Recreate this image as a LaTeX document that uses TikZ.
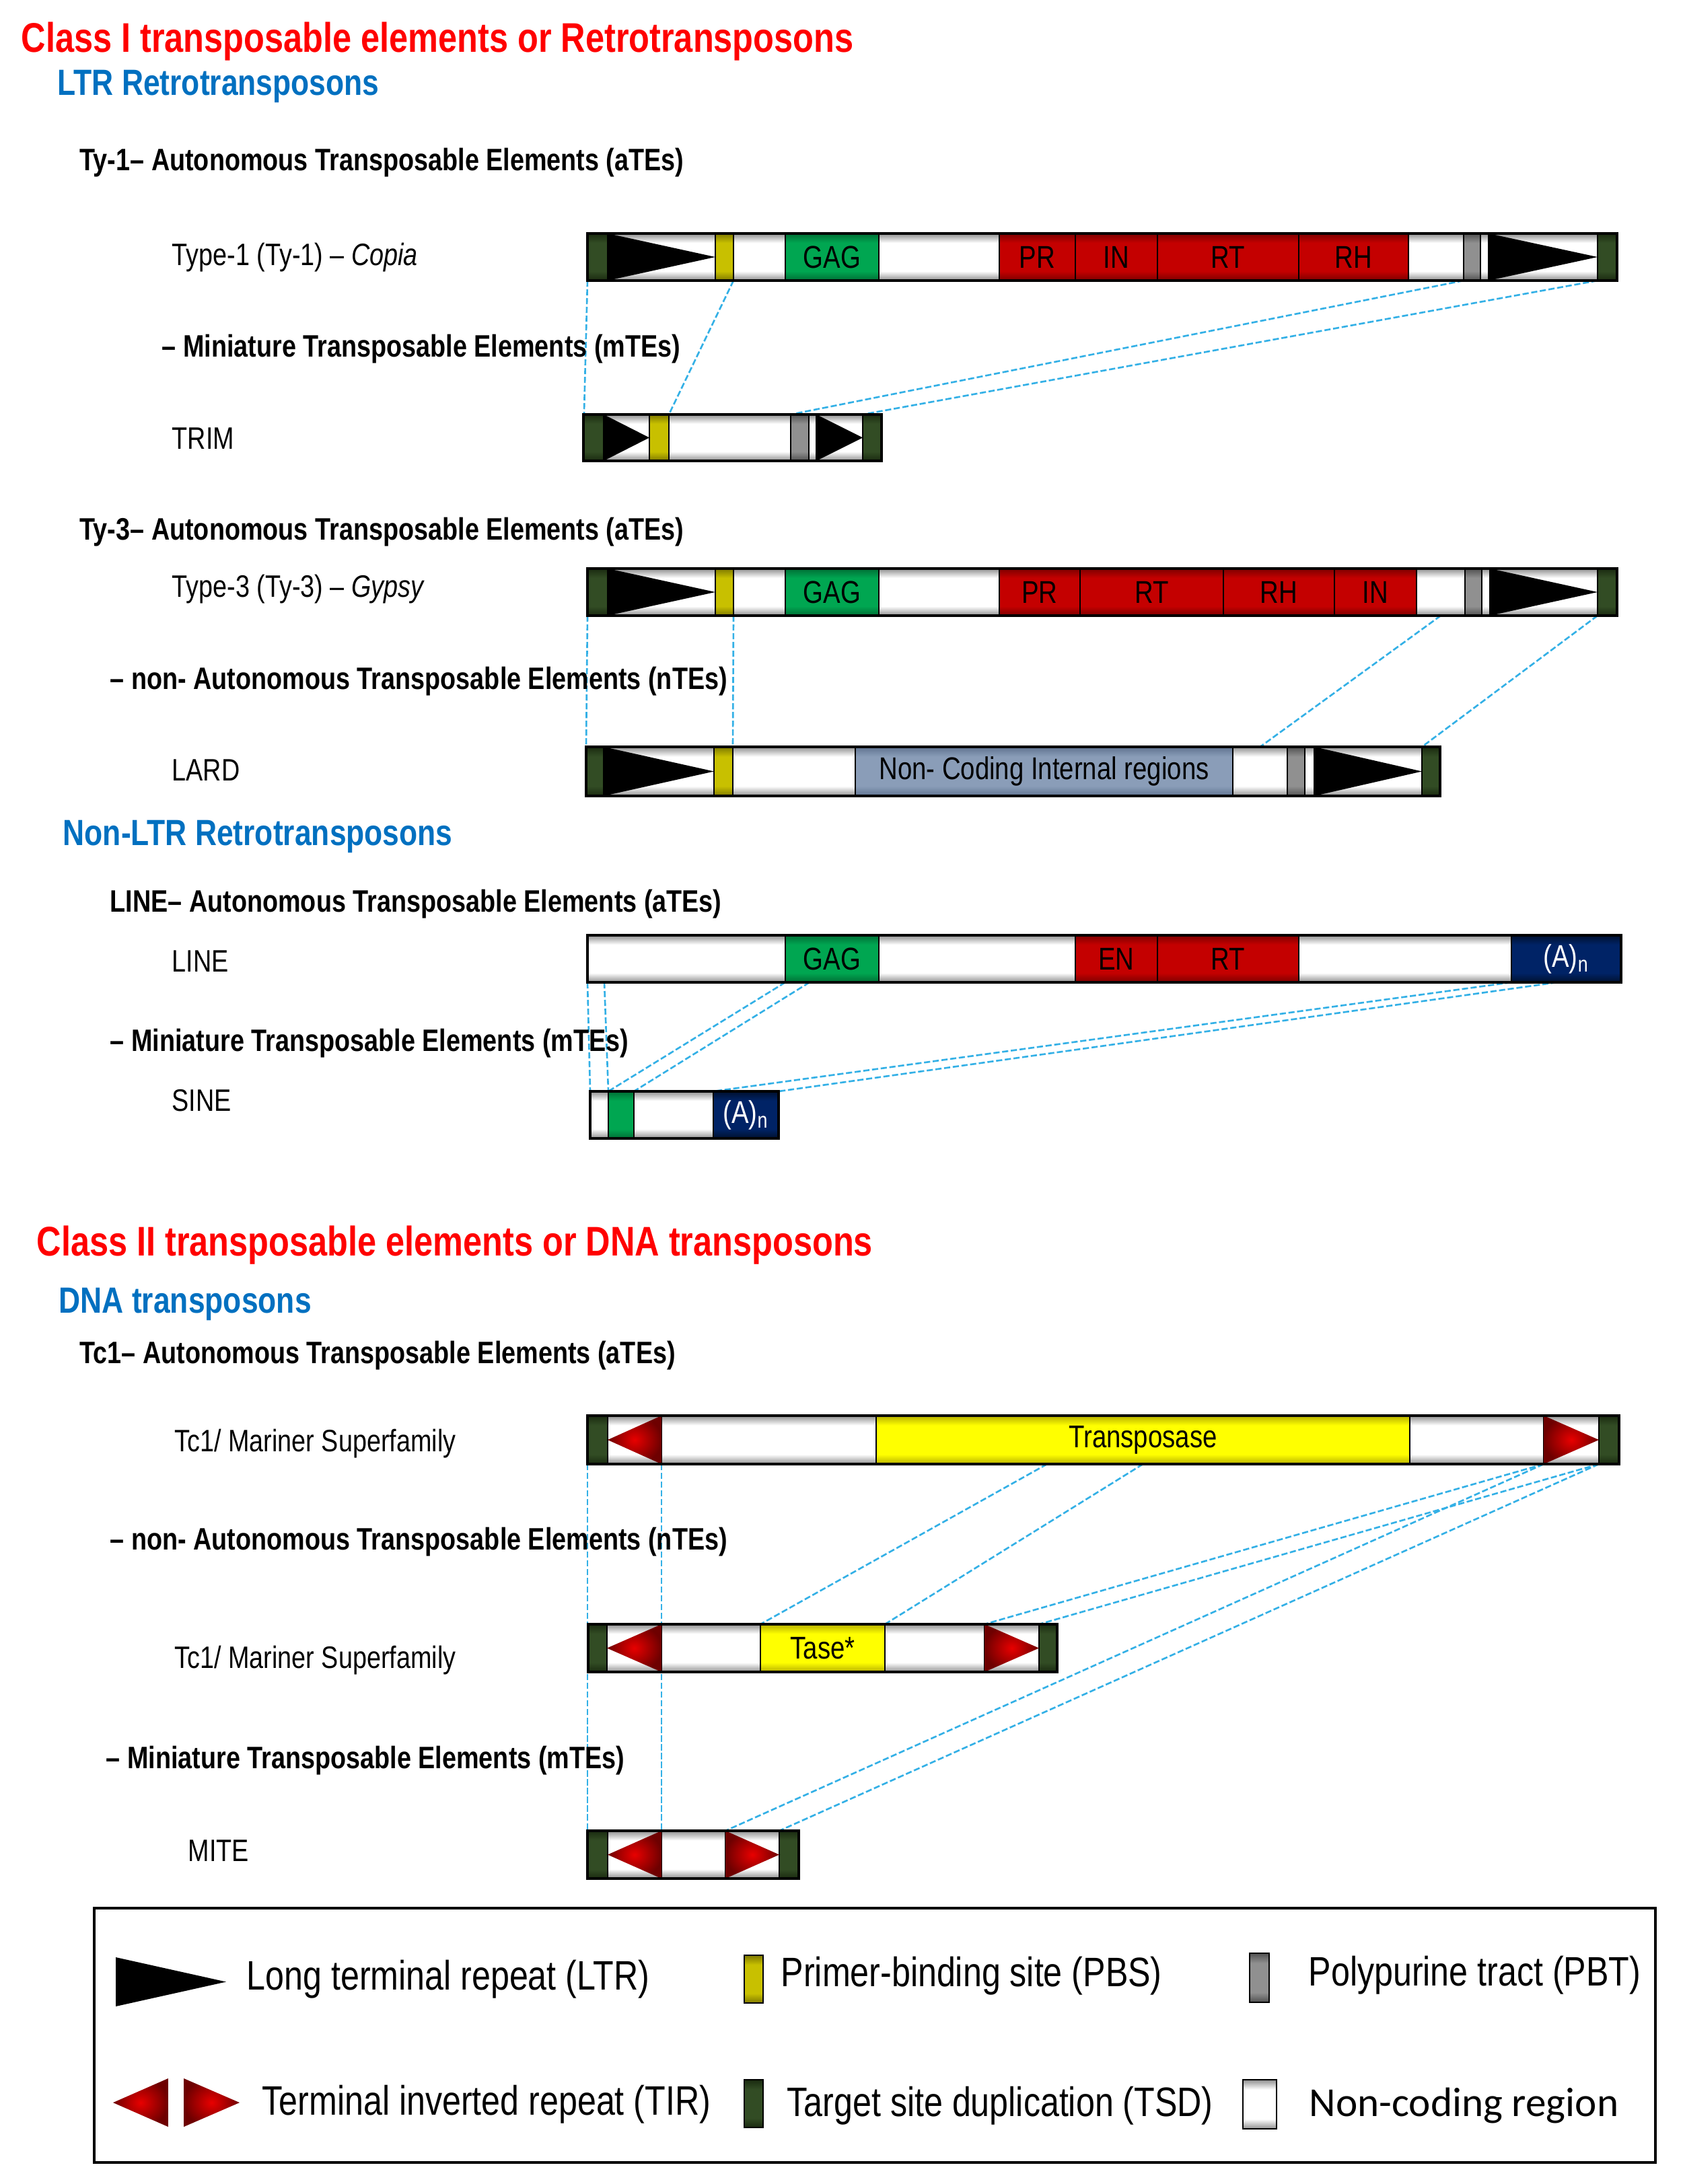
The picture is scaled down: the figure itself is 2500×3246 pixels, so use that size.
\documentclass[tikz,border=0pt]{standalone}
\usepackage{fontspec}
\setmainfont{Liberation Sans}[FakeStretch=0.82]
\newfontfamily\calib{Carlito}
\usetikzlibrary{calc,backgrounds}
\definecolor{titlered}{HTML}{FF0000}
\definecolor{subblue}{HTML}{0070C0}
\definecolor{dashblue}{HTML}{33B0E6}
\definecolor{ncedge}{HTML}{8E8E8E}
\definecolor{tsdmid}{HTML}{324C24}
\definecolor{tsdedge}{HTML}{1A2A10}
\definecolor{pbsmid}{HTML}{C8C000}
\definecolor{pbsedge}{HTML}{7E7800}
\definecolor{gagmid}{HTML}{00A651}
\definecolor{gagedge}{HTML}{006E35}
\definecolor{redmid}{HTML}{C40000}
\definecolor{rededge}{HTML}{7C0000}
\definecolor{pptmid}{HTML}{909090}
\definecolor{pptedge}{HTML}{505050}
\definecolor{navymid}{HTML}{002366}
\definecolor{navyedge}{HTML}{00102E}
\definecolor{ncimid}{HTML}{8A9DB8}
\definecolor{nciedge}{HTML}{5F7390}
\definecolor{tpmid}{HTML}{FFFF00}
\definecolor{tpedge}{HTML}{B5AE00}
\definecolor{tirin}{HTML}{E80000}
\definecolor{tirout}{HTML}{6E0000}
\newcommand\mkshade[3]{\pgfdeclareverticalshading{#1}{100bp}{color(0bp)=(#2); color(25bp)=(#2); color(35bp)=(#3); color(65bp)=(#3); color(75bp)=(#2); color(100bp)=(#2)}}
\mkshade{shnc}{ncedge}{white}
\mkshade{shtsd}{tsdedge}{tsdmid}
\mkshade{shpbs}{pbsedge}{pbsmid}
\mkshade{shgag}{gagedge}{gagmid}
\mkshade{shred}{rededge}{redmid}
\mkshade{shppt}{pptedge}{pptmid}
\mkshade{shnavy}{navyedge}{navymid}
\mkshade{shnci}{nciedge}{ncimid}
\mkshade{shtp}{tpedge}{tpmid}
\tikzset{
  segbase/.style={draw=black, line width=0.6pt, inner sep=0pt, outer sep=0pt, font=\fontsize{13.3}{15}\selectfont},
  nc/.style={shade, shading=shnc},
  tsd/.style={shade, shading=shtsd},
  pbs/.style={shade, shading=shpbs},
  gag/.style={shade, shading=shgag},
  dom/.style={shade, shading=shred},
  ppt/.style={shade, shading=shppt},
  polya/.style={shade, shading=shnavy, text=white},
  nci/.style={shade, shading=shnci},
  tpase/.style={shade, shading=shtp},
  dashc/.style={draw=dashblue, line width=0.75pt, dash pattern=on 2.6pt off 1.1pt},
  lab/.style={anchor=base west, inner sep=0pt, font=\fontsize{13.1}{15}\selectfont},
  head/.style={anchor=base west, inner sep=0pt, font=\fontsize{13.1}{15}\selectfont\bfseries},
  ttl/.style={anchor=base west, inner sep=0pt, text=titlered, font=\fontsize{17.5}{21}\selectfont\bfseries},
  subttl/.style={anchor=base west, inner sep=0pt, text=subblue, font=\fontsize{15.4}{18}\selectfont\bfseries},
  leg/.style={anchor=base west, inner sep=0pt, font=\fontsize{17.4}{20}\selectfont},
  barline/.style={draw=black, line width=1.1pt}
}
\newcommand\mkseg[7]{\node[segbase,#6,minimum width={(#3-#2)*0.01cm},minimum height={(#5-#4)*0.01cm}] (#1) at ({(#2+#3)/2},{(#4+#5)/2}) {#7};}
\newcommand\ltrtri[1]{\fill[black] (#1.north west) -- (#1.east) -- (#1.south west) -- cycle;}
\newcommand\tirleft[1]{\shade[inner color=tirin,outer color=tirout] (#1.west) -- (#1.north east) -- (#1.south east) -- cycle;}
\newcommand\tirright[1]{\shade[inner color=tirin,outer color=tirout] (#1.north west) -- (#1.east) -- (#1.south west) -- cycle;}
\newcommand\mkbar[2]{\draw[barline] (#1.north west) rectangle (#2.south east);}
\begin{document}
\begin{tikzpicture}[x=0.01cm,y=-0.01cm]
\useasboundingbox (0,0) rectangle (2500,3246);
\begin{scope}[on background layer]
\fill[white] (0,0) rectangle (2500,3246);
\end{scope}

% ---------------- titles and labels
\node[ttl] (t1) at (31,78) {Class I transposable elements or Retrotransposons};
\node[subttl] (t2) at (85,142) {LTR Retrotransposons};
\node[head] (h1) at (118,254) {Ty-1– Autonomous Transposable Elements (aTEs)};
\node[lab] (lcopia) at (255,395) {Type-1 (Ty-1) – \textit{Copia}};
\node[head] (h2) at (240,531) {– Miniature Transposable Elements (mTEs)};
\node[lab] (ltrim) at (255,668) {TRIM};
\node[head] (h3) at (118,802) {Ty-3– Autonomous Transposable Elements (aTEs)};
\node[lab] (lgypsy) at (255,887) {Type-3 (Ty-3) – \textit{Gypsy}};
\node[head] (h4) at (163,1024) {– non- Autonomous Transposable Elements (nTEs)};
\node[lab] (llard) at (255,1160) {LARD};
\node[subttl] (t3) at (93,1256) {Non-LTR Retrotransposons};
\node[head] (h5) at (163,1355) {LINE– Autonomous Transposable Elements (aTEs)};
\node[lab] (lline) at (255,1444) {LINE};
\node[head] (h6) at (163,1562) {– Miniature Transposable Elements (mTEs)};
\node[lab] (lsine) at (255,1651) {SINE};
\node[ttl] (t4) at (54,1866) {Class II transposable elements or DNA transposons};
\node[subttl] (t5) at (87,1951) {DNA transposons};
\node[head] (h7) at (118,2026) {Tc1– Autonomous Transposable Elements (aTEs)};
\node[lab] (ltc1) at (259,2157) {Tc1/ Mariner Superfamily};
\node[head] (h8) at (163,2303) {– non- Autonomous Transposable Elements (nTEs)};
\node[lab] (ltc2) at (259,2479) {Tc1/ Mariner Superfamily};
\node[head] (h9) at (157,2628) {– Miniature Transposable Elements (mTEs)};
\node[lab] (lmite) at (279,2766) {MITE};

% ---------------- Copia
\mkseg{c1}{873}{903}{347}{417}{tsd}{}
\mkseg{c2}{903}{1063}{347}{417}{nc}{}
\mkseg{c3}{1063}{1090}{347}{417}{pbs}{}
\mkseg{c4}{1090}{1167}{347}{417}{nc}{}
\mkseg{c5}{1167}{1306}{347}{417}{gag}{GAG}
\mkseg{c6}{1306}{1485}{347}{417}{nc}{}
\mkseg{c7}{1485}{1598}{347}{417}{dom}{PR}
\mkseg{c8}{1598}{1720}{347}{417}{dom}{IN}
\mkseg{c9}{1720}{1930}{347}{417}{dom}{RT}
\mkseg{c10}{1930}{2093}{347}{417}{dom}{RH}
\mkseg{c11}{2093}{2175}{347}{417}{nc}{}
\mkseg{c12}{2175}{2200}{347}{417}{ppt}{}
\mkseg{c13}{2200}{2212}{347}{417}{nc}{}
\mkseg{c14}{2212}{2374}{347}{417}{nc}{}
\mkseg{c15}{2374}{2403}{347}{417}{tsd}{}
\ltrtri{c2}\ltrtri{c14}
\mkbar{c1}{c15}

% ---------------- TRIM
\mkseg{r1}{867}{897}{616}{685}{tsd}{}
\mkseg{r2}{897}{965}{616}{685}{nc}{}
\mkseg{r3}{965}{994}{616}{685}{pbs}{}
\mkseg{r4}{994}{1175}{616}{685}{nc}{}
\mkseg{r5}{1175}{1202}{616}{685}{ppt}{}
\mkseg{r6}{1202}{1213}{616}{685}{nc}{}
\mkseg{r7}{1213}{1282}{616}{685}{nc}{}
\mkseg{r8}{1282}{1310}{616}{685}{tsd}{}
\ltrtri{r2}\ltrtri{r7}
\mkbar{r1}{r8}

% ---------------- Gypsy
\mkseg{g1}{873}{903}{845}{915}{tsd}{}
\mkseg{g2}{903}{1063}{845}{915}{nc}{}
\mkseg{g3}{1063}{1090}{845}{915}{pbs}{}
\mkseg{g4}{1090}{1167}{845}{915}{nc}{}
\mkseg{g5}{1167}{1306}{845}{915}{gag}{GAG}
\mkseg{g6}{1306}{1485}{845}{915}{nc}{}
\mkseg{g7}{1485}{1605}{845}{915}{dom}{PR}
\mkseg{g8}{1605}{1818}{845}{915}{dom}{RT}
\mkseg{g9}{1818}{1983}{845}{915}{dom}{RH}
\mkseg{g10}{1983}{2105}{845}{915}{dom}{IN}
\mkseg{g11}{2105}{2177}{845}{915}{nc}{}
\mkseg{g12}{2177}{2202}{845}{915}{ppt}{}
\mkseg{g13}{2202}{2214}{845}{915}{nc}{}
\mkseg{g14}{2214}{2374}{845}{915}{nc}{}
\mkseg{g15}{2374}{2403}{845}{915}{tsd}{}
\ltrtri{g2}\ltrtri{g14}
\mkbar{g1}{g15}

% ---------------- LARD
\mkseg{d1}{871}{897}{1110}{1183}{tsd}{}
\mkseg{d2}{897}{1061}{1110}{1183}{nc}{}
\mkseg{d3}{1061}{1089}{1110}{1183}{pbs}{}
\mkseg{d4}{1089}{1271}{1110}{1183}{nc}{}
\mkseg{d5}{1271}{1832}{1110}{1183}{nci}{Non- Coding Internal regions}
\mkseg{d6}{1832}{1913}{1110}{1183}{nc}{}
\mkseg{d7}{1913}{1939}{1110}{1183}{ppt}{}
\mkseg{d8}{1939}{1953}{1110}{1183}{nc}{}
\mkseg{d9}{1953}{2113}{1110}{1183}{nc}{}
\mkseg{d10}{2113}{2140}{1110}{1183}{tsd}{}
\ltrtri{d2}\ltrtri{d9}
\mkbar{d1}{d10}

% ---------------- LINE
\mkseg{n1}{873}{1167}{1390}{1460}{nc}{}
\mkseg{n2}{1167}{1306}{1390}{1460}{gag}{GAG}
\mkseg{n3}{1306}{1598}{1390}{1460}{nc}{}
\mkseg{n4}{1598}{1720}{1390}{1460}{dom}{EN}
\mkseg{n5}{1720}{1930}{1390}{1460}{dom}{RT}
\mkseg{n6}{1930}{2246}{1390}{1460}{nc}{}
\mkseg{n7}{2246}{2409}{1390}{1460}{polya}{(A)\textsubscript{n}}
\mkbar{n1}{n7}

% ---------------- SINE
\mkseg{s1}{877}{904}{1622}{1692}{nc}{}
\mkseg{s2}{904}{942}{1622}{1692}{gag}{}
\mkseg{s3}{942}{1060}{1622}{1692}{nc}{}
\mkseg{s4}{1060}{1157}{1622}{1692}{polya}{(A)\textsubscript{n}}
\mkbar{s1}{s4}

% ---------------- Tc1 autonomous
\mkseg{a1}{873}{903}{2104}{2176}{tsd}{}
\mkseg{a2}{903}{983}{2104}{2176}{nc}{}
\mkseg{a3}{983}{1302}{2104}{2176}{nc}{}
\mkseg{a4}{1302}{2095}{2104}{2176}{tpase}{Transposase}
\mkseg{a5}{2095}{2294}{2104}{2176}{nc}{}
\mkseg{a6}{2294}{2376}{2104}{2176}{nc}{}
\mkseg{a7}{2376}{2406}{2104}{2176}{tsd}{}
\tirleft{a2}\tirright{a6}
\mkbar{a1}{a7}

% ---------------- Tc1 non-autonomous
\mkseg{b1}{874}{902}{2414}{2485}{tsd}{}
\mkseg{b2}{902}{983}{2414}{2485}{nc}{}
\mkseg{b3}{983}{1130}{2414}{2485}{nc}{}
\mkseg{b4}{1130}{1315}{2414}{2485}{tpase}{Tase*}
\mkseg{b5}{1315}{1463}{2414}{2485}{nc}{}
\mkseg{b6}{1463}{1544}{2414}{2485}{nc}{}
\mkseg{b7}{1544}{1571}{2414}{2485}{tsd}{}
\tirleft{b2}\tirright{b6}
\mkbar{b1}{b7}

% ---------------- MITE
\mkseg{m1}{873}{903}{2721}{2792}{tsd}{}
\mkseg{m2}{903}{983}{2721}{2792}{nc}{}
\mkseg{m3}{983}{1078}{2721}{2792}{nc}{}
\mkseg{m4}{1078}{1158}{2721}{2792}{nc}{}
\mkseg{m5}{1158}{1187}{2721}{2792}{tsd}{}
\tirleft{m2}\tirright{m4}
\mkbar{m1}{m5}

% ---------------- connectors (behind the bars)
\coordinate (n1b) at ($(n1.south west)+(25,0)$);
\coordinate (n2b) at ($(n2.south west)+(36,0)$);
\coordinate (n7b) at ($(n7.south west)+(68,0)$);
\coordinate (a4b) at ($(a4.south west)+(254,0)$);
\begin{scope}[on background layer]
\draw[dashc] (c1.south west) -- (r1.west);
\draw[dashc] (c3.south east) -- (r3.north east);
\draw[dashc] (c12.south west) -- (r5.north west);
\draw[dashc] (c15.south west) -- (r8.north west);
\draw[dashc] (g1.south west) -- (d1.north west);
\draw[dashc] (g3.south east) -- (d3.north east);
\draw[dashc] (g11.south) -- (d6.north);
\draw[dashc] (g15.south west) -- (d10.north west);
\draw[dashc] (n1.south west) -- (s1.north west);
\draw[dashc] (n1b) -- (s2.north west);
\draw[dashc] (n2.south west) -- (s2.north west);
\draw[dashc] (n2b) -- (s3.north west);
\draw[dashc] (n7.south west) -- (s4.north west);
\draw[dashc] (n7b) -- (s4.north east);
\draw[dashc] (a1.south west) -- (m1.north west);
\draw[dashc] (a2.south east) -- (m2.north east);
\draw[dashc] (a4b) -- (b4.north west);
\draw[dashc] (a4.south) -- (b4.north east);
\draw[dashc] (a6.south west) -- (b6.north west);
\draw[dashc] (a6.south west) -- (m4.north west);
\draw[dashc] (a7.south west) -- (b7.north west);
\draw[dashc] (a7.south west) -- (m5.north west);
\end{scope}

% ---------------- legend
\draw[line width=1pt] (140,2836) rectangle (2460,3214);
\fill[black] (172,2909) -- (336,2945.5) -- (172,2982) -- cycle;
\node[leg] (k1) at (366,2957) {Long terminal repeat (LTR)};
\mkseg{kpbs}{1106}{1134}{2906}{2977}{pbs}{}
\node[leg] (k2) at (1160,2952) {Primer-binding site (PBS)};
\mkseg{kppt}{1857}{1886}{2903}{2976}{ppt}{}
\node[leg] (k3) at (1944,2951) {Polypurine tract (PBT)};
\shade[inner color=tirin,outer color=tirout] (168,3125) -- (250,3089) -- (250,3161) -- cycle;
\shade[inner color=tirin,outer color=tirout] (273,3089) -- (356,3125) -- (273,3161) -- cycle;
\node[leg] (k4) at (389,3143) {Terminal inverted repeat (TIR)};
\mkseg{ktsd}{1106}{1134}{3091}{3162}{tsd}{}
\node[leg] (k5) at (1169,3145) {Target site duplication (TSD)};
\mkseg{knc}{1847}{1897}{3091}{3164}{nc}{}
\node[leg, font=\calib\fontsize{17.4}{20}\selectfont] (k6) at (1945,3145) {Non-coding region};
\end{tikzpicture}
\end{document}
